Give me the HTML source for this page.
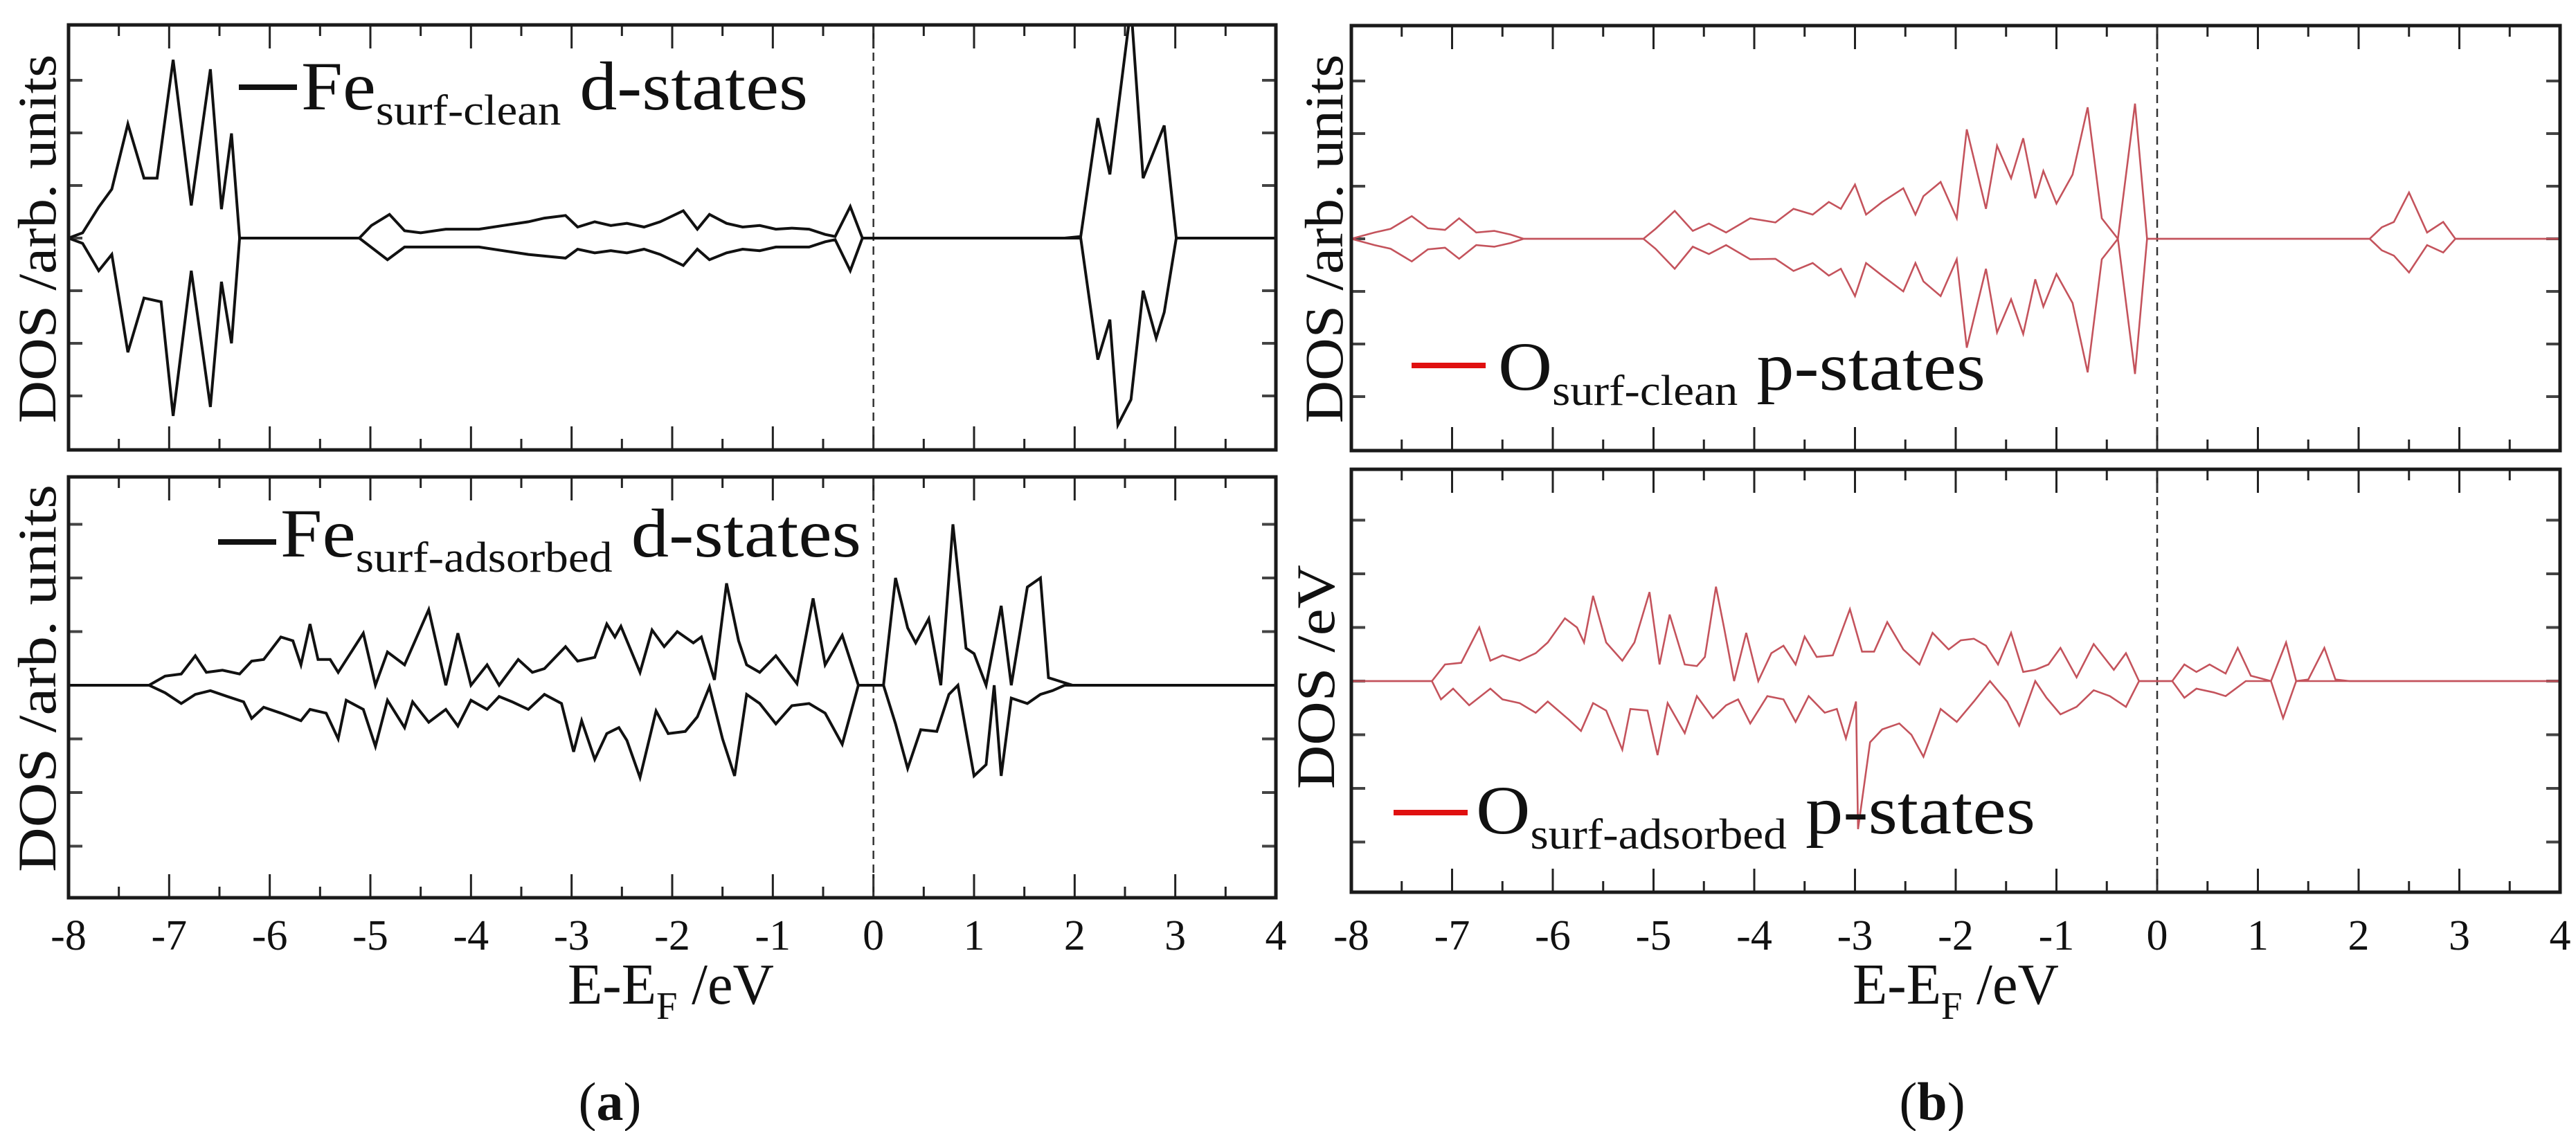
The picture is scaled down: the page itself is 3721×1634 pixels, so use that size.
<!DOCTYPE html>
<html><head><meta charset="utf-8"><style>
html,body{margin:0;padding:0;background:#fff;}
svg{display:block;font-family:"Liberation Serif",serif;}
</style></head><body>
<svg id="fig" width="3721" height="1634" viewBox="0 0 3721 1634" xmlns="http://www.w3.org/2000/svg"></svg>
<script>
// ---- data: energies (eV) and DOS values (arb. units) ----
const feCleanUpE=[-8,-7.86,-7.70,-7.57,-7.41,-7.25,-7.12,-6.96,-6.78,-6.59,-6.48,-6.38,-6.30,-5.11,-4.99,-4.81,-4.66,-4.50,-4.25,-3.92,-3.68,-3.43,-3.27,-3.06,-2.94,-2.77,-2.61,-2.45,-2.28,-2.12,-1.89,-1.75,-1.63,-1.46,-1.30,-1.13,-0.97,-0.81,-0.64,-0.48,-0.38,-0.23,-0.11,1.90,2.06,2.23,2.35,2.56,2.68,2.89,3.01,4];
const feCleanUpV=[0,0.10,0.59,0.93,2.17,1.14,1.14,3.39,0.62,3.21,0.55,1.99,0,0,0.24,0.45,0.14,0.10,0.17,0.17,0.24,0.31,0.38,0.43,0.21,0.31,0.24,0.28,0.21,0.31,0.52,0.17,0.45,0.28,0.21,0.24,0.17,0.19,0.17,0.07,0.03,0.60,0,0,0.03,2.28,1.21,4.4,1.14,2.14,0,0];
const feCleanDnE=[-8,-7.86,-7.70,-7.57,-7.41,-7.25,-7.08,-6.96,-6.78,-6.59,-6.48,-6.38,-6.30,-5.11,-4.83,-4.66,-4.25,-3.92,-3.68,-3.43,-3.06,-2.94,-2.77,-2.61,-2.45,-2.28,-2.12,-1.89,-1.75,-1.63,-1.46,-1.30,-1.13,-0.97,-0.81,-0.64,-0.48,-0.38,-0.23,-0.11,2.06,2.23,2.35,2.43,2.56,2.68,2.81,2.89,3.01,4];
const feCleanDnV=[0,-0.10,-0.62,-0.31,-2.17,-1.14,-1.21,-3.38,-0.62,-3.21,-0.83,-2.00,0,0,-0.41,-0.17,-0.17,-0.17,-0.24,-0.31,-0.38,-0.21,-0.28,-0.24,-0.28,-0.21,-0.31,-0.52,-0.21,-0.41,-0.28,-0.21,-0.24,-0.17,-0.17,-0.17,-0.07,-0.03,-0.62,0,0,-2.31,-1.55,-3.55,-3.07,-1.00,-1.90,-1.41,0,0];

const feAdsUpE=[-8,-7.20,-7.04,-6.88,-6.74,-6.63,-6.47,-6.30,-6.18,-6.06,-5.89,-5.77,-5.69,-5.60,-5.52,-5.40,-5.32,-5.07,-4.95,-4.83,-4.66,-4.42,-4.25,-4.13,-4.00,-3.84,-3.72,-3.53,-3.39,-3.27,-3.06,-2.94,-2.77,-2.65,-2.57,-2.51,-2.32,-2.20,-2.08,-1.95,-1.79,-1.71,-1.58,-1.46,-1.34,-1.26,-1.13,-0.97,-0.76,-0.60,-0.48,-0.31,-0.15,0.10,0.22,0.34,0.42,0.55,0.67,0.79,0.92,1.00,1.12,1.27,1.37,1.53,1.66,1.74,1.86,1.98,4];
const feAdsUpV=[0,0,0.17,0.21,0.55,0.24,0.28,0.21,0.45,0.48,0.90,0.83,0.38,1.14,0.48,0.48,0.24,0.97,0,0.62,0.38,1.41,0,0.97,0,0.38,0,0.48,0.24,0.31,0.72,0.45,0.52,1.14,0.90,1.10,0.24,1.03,0.72,1.0,0.79,0.90,0.10,1.90,0.83,0.38,0.24,0.55,0.03,1.62,0.38,0.93,0,0,2.0,1.07,0.79,1.24,0,3.0,0.69,0.59,0,1.48,0,1.83,2.0,0.14,0.07,0,0];
const feAdsDnE=[-8,-7.20,-7.04,-6.88,-6.74,-6.59,-6.42,-6.26,-6.18,-6.06,-5.89,-5.69,-5.60,-5.44,-5.32,-5.24,-5.07,-4.95,-4.83,-4.66,-4.58,-4.42,-4.25,-4.13,-4.00,-3.84,-3.72,-3.59,-3.43,-3.27,-3.10,-2.98,-2.90,-2.77,-2.65,-2.53,-2.45,-2.32,-2.16,-2.04,-1.87,-1.75,-1.63,-1.50,-1.38,-1.26,-1.13,-0.97,-0.81,-0.64,-0.48,-0.31,-0.15,0.10,0.22,0.34,0.47,0.63,0.75,0.84,1.00,1.12,1.20,1.27,1.37,1.53,1.66,1.78,1.90,4];
const feAdsDnV=[0,0,-0.14,-0.34,-0.17,-0.10,-0.21,-0.31,-0.62,-0.41,-0.52,-0.66,-0.45,-0.52,-1.0,-0.28,-0.45,-1.14,-0.28,-0.79,-0.31,-0.69,-0.45,-0.76,-0.28,-0.45,-0.21,-0.31,-0.45,-0.17,-0.34,-1.24,-0.66,-1.38,-0.90,-0.79,-1.03,-1.72,-0.48,-0.90,-0.86,-0.59,-0.03,-1.0,-1.69,-0.17,-0.34,-0.72,-0.38,-0.34,-0.52,-1.10,0,0,-0.72,-1.55,-0.83,-0.86,-0.17,0,-1.69,-1.48,0,-1.69,-0.24,-0.34,-0.17,-0.10,0,0];

const oCleanUpE=[-8,-7.77,-7.61,-7.40,-7.24,-7.07,-6.93,-6.76,-6.58,-6.42,-6.29,-5.10,-4.98,-4.79,-4.61,-4.45,-4.28,-4.04,-3.79,-3.61,-3.42,-3.26,-3.14,-3.00,-2.89,-2.73,-2.52,-2.40,-2.32,-2.15,-1.99,-1.89,-1.70,-1.59,-1.45,-1.33,-1.21,-1.13,-1.00,-0.84,-0.69,-0.55,-0.39,-0.22,-0.10,2.11,2.23,2.35,2.50,2.68,2.84,2.96,4];
const oCleanUpV=[0,0.12,0.19,0.43,0.2,0.17,0.39,0.12,0.15,0.08,0,0,0.19,0.53,0.15,0.29,0.12,0.39,0.31,0.57,0.46,0.70,0.57,1.03,0.46,0.70,0.96,0.46,0.81,1.08,0.39,2.08,0.57,1.77,1.15,1.91,0.77,1.29,0.67,1.22,2.50,0.39,0,2.57,0,0,0.22,0.32,0.88,0.12,0.32,0,0];
const oCleanDnE=[-8,-7.77,-7.61,-7.40,-7.24,-7.07,-6.93,-6.76,-6.58,-6.42,-6.29,-5.10,-4.98,-4.79,-4.61,-4.45,-4.28,-4.04,-3.79,-3.61,-3.42,-3.26,-3.14,-3.00,-2.89,-2.73,-2.52,-2.40,-2.32,-2.15,-1.99,-1.89,-1.70,-1.59,-1.45,-1.33,-1.21,-1.13,-1.00,-0.84,-0.69,-0.55,-0.39,-0.22,-0.10,2.11,2.23,2.35,2.50,2.68,2.84,2.96,4];
const oCleanDnV=[0,-0.12,-0.19,-0.43,-0.2,-0.17,-0.38,-0.12,-0.15,-0.08,0,0,-0.19,-0.57,-0.15,-0.29,-0.12,-0.39,-0.38,-0.61,-0.46,-0.70,-0.57,-1.09,-0.46,-0.70,-1.0,-0.46,-0.81,-1.09,-0.39,-2.07,-0.57,-1.78,-1.15,-1.81,-0.77,-1.29,-0.67,-1.22,-2.54,-0.39,0,-2.57,0,0,-0.22,-0.32,-0.64,-0.12,-0.26,0,0];

const oAdsUpE=[-8,-7.20,-7.07,-6.91,-6.73,-6.62,-6.50,-6.33,-6.17,-6.05,-5.88,-5.76,-5.69,-5.60,-5.47,-5.31,-5.19,-5.04,-4.94,-4.84,-4.69,-4.57,-4.49,-4.38,-4.30,-4.20,-4.08,-3.96,-3.83,-3.71,-3.59,-3.50,-3.38,-3.22,-3.05,-2.93,-2.81,-2.68,-2.52,-2.36,-2.23,-2.07,-1.95,-1.82,-1.70,-1.58,-1.45,-1.33,-1.21,-1.08,-0.96,-0.80,-0.63,-0.43,-0.31,-0.18,0.15,0.27,0.39,0.52,0.68,0.80,0.93,1.13,1.28,1.38,1.50,1.66,1.77,1.91,4];
const oAdsUpV=[0,0,0.31,0.34,1.0,0.38,0.48,0.38,0.52,0.72,1.17,1.0,0.72,1.59,0.72,0.38,0.72,1.66,0.31,1.24,0.31,0.28,0.45,1.76,1.0,0,0.90,0,0.52,0.66,0.31,0.83,0.45,0.48,1.34,0.55,0.55,1.10,0.59,0.31,0.90,0.59,0.76,0.79,0.66,0.31,0.90,0.17,0.21,0.31,0.62,0.07,0.69,0.21,0.52,0,0,0.31,0.17,0.31,0.14,0.62,0.10,0,0.72,0,0.03,0.62,0.03,0,0];
const oAdsDnE=[-8,-7.20,-7.11,-6.99,-6.83,-6.62,-6.50,-6.33,-6.17,-6.05,-5.84,-5.72,-5.60,-5.47,-5.31,-5.23,-5.06,-4.96,-4.86,-4.69,-4.57,-4.41,-4.28,-4.16,-4.04,-3.87,-3.71,-3.59,-3.46,-3.30,-3.18,-3.09,-2.99,-2.97,-2.85,-2.73,-2.56,-2.44,-2.32,-2.15,-1.99,-1.82,-1.66,-1.49,-1.37,-1.21,-1.10,-0.96,-0.80,-0.63,-0.47,-0.31,-0.18,0.15,0.27,0.39,0.56,0.68,0.88,1.13,1.25,1.38,4];
const oAdsDnV=[0,0,-0.34,-0.14,-0.45,-0.14,-0.34,-0.41,-0.59,-0.38,-0.72,-0.93,-0.41,-0.55,-1.28,-0.52,-0.55,-1.38,-0.41,-0.97,-0.28,-0.69,-0.45,-0.34,-0.79,-0.28,-0.34,-0.76,-0.28,-0.59,-0.52,-1.07,-0.38,-2.76,-1.14,-0.90,-0.79,-1.0,-1.41,-0.52,-0.76,-0.38,0,-0.38,-0.83,0,-0.31,-0.62,-0.48,-0.17,-0.28,-0.48,0,0,-0.31,-0.14,-0.21,-0.28,0,0,-0.69,0,0];

const xTicks=[-8,-7,-6,-5,-4,-3,-2,-1,0,1,2,3,4];
const xTickLabels=["-8","-7","-6","-5","-4","-3","-2","-1","0","1","2","3","4"];
const yTicks=[-3,-2,-1,0,1,2,3];

const NS="http://www.w3.org/2000/svg";
const svg=document.getElementById('fig');
function mk(tag,attrs,parent){const e=document.createElementNS(NS,tag);for(const k in attrs)e.setAttribute(k,attrs[k]);(parent||svg).appendChild(e);return e;}

const panels=[
 {id:'fe-clean',x0:99,x1:1843,y0:36,y1:650,zero:344,unit:76,color:'#111',w:4,series:[[feCleanUpE,feCleanUpV],[feCleanDnE,feCleanDnV]],xlabels:false},
 {id:'fe-adsorbed',x0:99,x1:1843,y0:689,y1:1297,zero:990,unit:77.5,color:'#111',w:4,series:[[feAdsUpE,feAdsUpV],[feAdsDnE,feAdsDnV]],xlabels:true},
 {id:'o-clean',x0:1952,x1:3698,y0:37,y1:651,zero:345,unit:76,color:'#c4535c',w:2.6,series:[[oCleanUpE,oCleanUpV],[oCleanDnE,oCleanDnV]],xlabels:false},
 {id:'o-adsorbed',x0:1952,x1:3698,y0:678,y1:1289,zero:984,unit:77.5,color:'#c4535c',w:2.6,series:[[oAdsUpE,oAdsUpV],[oAdsDnE,oAdsDnV]],xlabels:true}
];

panels.forEach(p=>{
  const g=mk('g',{});
  
  
  const xs=e=>p.x0+(e+8)/12*(p.x1-p.x0);
  const ys=v=>p.zero-v*p.unit;
  const cid='clip-'+p.id;
  const cp=mk('clipPath',{id:cid},g);
  mk('rect',{x:p.x0,y:p.y0,width:p.x1-p.x0,height:p.y1-p.y0},cp);
  // x ticks (major + minor)
  for(let i=0;i<xTicks.length;i++){
    const x=xs(xTicks[i]);
    const t1=mk('line',{x1:x,x2:x,y1:p.y1,y2:p.y1-34,stroke:'#222','stroke-width':3},g);
    
    
    mk('line',{x1:x,x2:x,y1:p.y0,y2:p.y0+34,stroke:'#222','stroke-width':3},g);
    if(i<xTicks.length-1){
      const xm=xs(xTicks[i]+0.5);
      mk('line',{x1:xm,x2:xm,y1:p.y1,y2:p.y1-16,stroke:'#222','stroke-width':3},g);
      mk('line',{x1:xm,x2:xm,y1:p.y0,y2:p.y0+16,stroke:'#222','stroke-width':3},g);
    }
    if(p.xlabels){
      const tl=mk('text',{x:x,y:1372,'font-size':62,'text-anchor':'middle',fill:'#111'},g);
      
      
      tl.textContent=xTickLabels[i];
    }
  }
  yTicks.forEach(v=>{
    const y=ys(v);
    if(y<=p.y0+5||y>=p.y1-5)return;
    const t=mk('line',{x1:p.x0,x2:p.x0+20,y1:y,y2:y,stroke:'#444','stroke-width':4},g);
    
    
    mk('line',{x1:p.x1,x2:p.x1-20,y1:y,y2:y,stroke:'#444','stroke-width':4},g);
  });
  // fermi line
  const fl=mk('line',{x1:xs(0),x2:xs(0),y1:p.y0,y2:p.y1,stroke:'#333','stroke-width':2.5,'stroke-dasharray':'12 8'},g);
  
  
  // series
  const sg=mk('g',{'clip-path':'url(#'+cid+')'},g);
  p.series.forEach((s,k)=>{
    const [E,V]=s;
    let d='';
    for(let i=0;i<E.length;i++)d+=(i?'L':'M')+xs(E[i]).toFixed(1)+','+ys(V[i]).toFixed(1);
    const path=mk('path',{d:d,fill:'none',stroke:p.color,'stroke-width':p.w,'stroke-linejoin':'miter'},sg);
    
    
  });
  const fr=mk('rect',{x:p.x0,y:p.y0,width:p.x1-p.x0,height:p.y1-p.y0,fill:'none',stroke:'#1a1a1a','stroke-width':5},g);
  
  
});
</script>
<script>
(function(){
const NS="http://www.w3.org/2000/svg";
const svg=document.getElementById('fig');
function txt(x,y,size,str,name,extra){const t=document.createElementNS(NS,'text');t.setAttribute('x',x);t.setAttribute('y',y);t.setAttribute('font-size',size);t.setAttribute('fill','#111');for(const k in (extra||{}))t.setAttribute(k,extra[k]);t.textContent=str;


svg.appendChild(t);return t;}
// y-axis titles
txt(0,0,78,'DOS /arb. units','y-axis-title-fe-clean',{transform:'translate(80,345) rotate(-90)','text-anchor':'middle',textLength:533,lengthAdjust:'spacingAndGlyphs'});
txt(0,0,78,'DOS /arb. units','y-axis-title-fe-adsorbed',{transform:'translate(80,980) rotate(-90)','text-anchor':'middle',textLength:560,lengthAdjust:'spacingAndGlyphs'});
txt(0,0,78,'DOS /arb. units','y-axis-title-o-clean',{transform:'translate(1939,345) rotate(-90)','text-anchor':'middle',textLength:533,lengthAdjust:'spacingAndGlyphs'});
txt(0,0,78,'DOS /eV','y-axis-title-o-adsorbed',{transform:'translate(1927,978) rotate(-90)','text-anchor':'middle',textLength:324,lengthAdjust:'spacingAndGlyphs'});
// x-axis titles
[[970,'x-axis-title-a'],[2826,'x-axis-title-b']].forEach(a=>{
 const t=txt(a[0]-150,1450,84,'','x-axis-title',{});
 
 t.innerHTML='E-E<tspan font-size="56" dy="22">F</tspan><tspan dy="-22"> /eV</tspan>';
 t.setAttribute('textLength',298);t.setAttribute('lengthAdjust','spacingAndGlyphs');
});
// panel labels
const la=txt(881,1618,78,'','panel-label-a',{'text-anchor':'middle'});la.innerHTML='(<tspan font-weight="bold">a</tspan>)';
const lb=txt(2791,1618,78,'','panel-label-b',{'text-anchor':'middle'});lb.innerHTML='(<tspan font-weight="bold">b</tspan>)';
// legends
function legend(lx1,lx2,ly,color,tx,tb,tend,main,sub,rest,name){
 const l=document.createElementNS(NS,'line');
 l.setAttribute('x1',lx1);l.setAttribute('x2',lx2);l.setAttribute('y1',ly);l.setAttribute('y2',ly);l.setAttribute('stroke',color);l.setAttribute('stroke-width',8);
 
 
 svg.appendChild(l);
 const t=txt(tx,tb,100,'',name,{textLength:tend-tx,lengthAdjust:'spacingAndGlyphs'});
 t.innerHTML=main+'<tspan font-size="62" dy="22">'+sub+'</tspan><tspan dy="-22"> '+rest+'</tspan>';
}
legend(345,429,126,'#111',435,158,1167,'Fe','surf-clean','d-states','legend-fe-clean');
legend(315,399,783,'#111',405,804,1244,'Fe','surf-adsorbed','d-states','legend-fe-adsorbed');
legend(2039,2146,528,'#e01010',2164,563,2868,'O','surf-clean','p-states','legend-o-clean');
legend(2013,2120,1174,'#e01010',2132,1204,2940,'O','surf-adsorbed','p-states','legend-o-adsorbed');
})();
</script>
</body></html>
